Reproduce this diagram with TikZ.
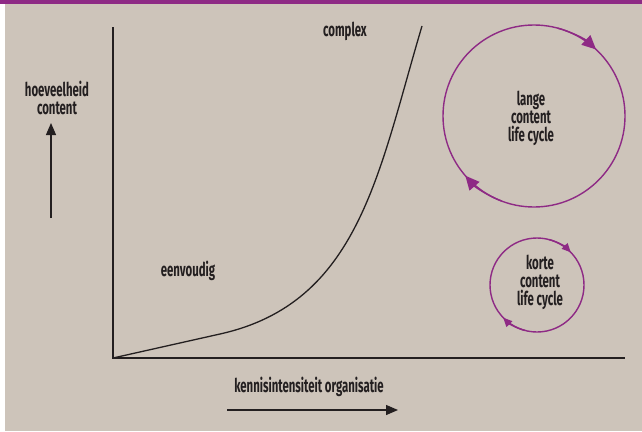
\documentclass[tikz,border=0pt]{standalone}
\usepackage{fontspec}
\setmainfont{Fira Sans}[FakeStretch=0.6]
\usetikzlibrary{arrows.meta}
\definecolor{bg}{HTML}{CDC4BA}
\definecolor{purp}{HTML}{8E2A85}
\definecolor{ink}{HTML}{231F20}
\tikzset{
  lbl/.style={font=\fontsize{19}{18}\selectfont\bfseries, text=ink, align=center, inner sep=0pt},
  axis/.style={draw=ink, line width=1.5pt},
  cyc/.style={draw=purp, line width=1.4pt},
  bigtip/.style={cyc, -{Triangle[length=14pt,width=13pt]}},
  smalltip/.style={cyc, -{Triangle[length=9pt,width=8pt]}},
  ptr/.style={draw=ink, line width=1.3pt, -{Triangle[length=12pt,width=10pt]}},
}
\begin{document}
\begin{tikzpicture}[x=1pt,y=-1pt]
\useasboundingbox (0,0) rectangle (642,431);
\fill[bg] (0,0) rectangle (642,431);
\fill[white] (0,0) rectangle (5,431);
\fill[purp] (0,0) rectangle (642,4);
% axes
\coordinate (o) at (113,358);
\coordinate (ytop) at (113,27);
\coordinate (xend) at (625,358);
\draw[axis] (ytop) -- (o) -- (xend);
% curve
\coordinate (c1) at (220,334);
\coordinate (ctop) at (422,26);
\draw[ink, line width=1.3pt] (o) -- (c1) .. controls (359,303) and (378,174) .. (ctop);
% labels
\node[lbl] (complex) at (345,31) {complex};
\node[lbl] (eenv) at (188,271) {eenvoudig};
\node[lbl] (hoev) at (57,98) {hoeveelheid\\content};
\coordinate (ua) at (51,218);
\coordinate (ub) at (51,123);
\draw[ptr] (ua) -- (ub);
\node[lbl] (kennis) at (309,387) {kennisintensiteit organisatie};
\coordinate (ra) at (227,410);
\coordinate (rb) at (398,410);
\draw[ptr] (ra) -- (rb);
% big cycle
\node[lbl] (lange) at (531,118) {lange\\content\\life cycle};
\coordinate (bc) at (534,116);
\draw[cyc] (bc) circle[radius=91];
\draw[bigtip] ([shift={(bc)}]-75:91) arc[start angle=-75, end angle=-47, radius=91];
\draw[bigtip] ([shift={(bc)}]111:91) arc[start angle=111, end angle=139, radius=91];
% small cycle
\node[lbl] (korte) at (540,282) {korte\\content\\life cycle};
\coordinate (sc) at (537,285);
\draw[cyc] (sc) circle[radius=47];
\draw[smalltip] ([shift={(sc)}]-75:47) arc[start angle=-75, end angle=-44, radius=47];
\draw[smalltip] ([shift={(sc)}]105:47) arc[start angle=105, end angle=136, radius=47];
\end{tikzpicture}
\end{document}
